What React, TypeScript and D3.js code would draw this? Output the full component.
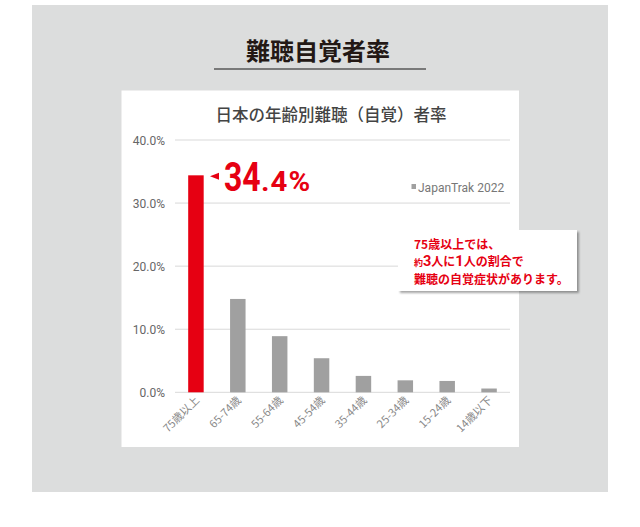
import React from "react";
import * as d3 from "d3";

const categories = ["75歳以上", "65-74歳", "55-64歳", "45-54歳", "35-44歳", "25-34歳", "15-24歳", "14歳以下"];
const values = [34.4, 14.8, 8.9, 5.4, 2.6, 1.9, 1.8, 0.6];
const yTicks = [0, 10, 20, 30, 40];
const seriesName = "JapanTrak 2022";
const mainTitle = "難聴自覚者率";
const chartTitle = "日本の年齢別難聴（自覚）者率";
const highlightBig = "34";
const highlightSmall = ".4%";

const RED = "#e60012";
const GRAY = "#a0a0a0";
const JP = "'Noto Sans CJK JP', 'Noto Sans', sans-serif";
const NUM = "Roboto, 'Noto Sans', sans-serif";

export default function App() {
  const x = d3.scaleBand<string>().domain(categories).range([175, 510]).paddingInner(0.63).paddingOuter(0.315);
  const y = d3.scaleLinear().domain([0, 40]).range([392.3, 140]);
  const fmt = (v: number) => d3.format(".1f")(v) + "%";

  return (
    <svg width={640} height={527} style={{ position: "absolute", left: 0, top: 0, background: "#fff" }}>
      <defs>
        <filter id="sh" x="-10%" y="-10%" width="130%" height="140%">
          <feDropShadow dx="2" dy="2" stdDeviation="1.2" floodColor="#000" floodOpacity="0.35" />
        </filter>
      </defs>
      <rect x={32} y={5} width={576} height={487} fill="#dcdddd" />
      <text x={318} y={60} textAnchor="middle" fontFamily={JP} fontWeight={700} fontSize={24} fill="#231815">
        {mainTitle}
      </text>
      <line x1={214} x2={426} y1={69} y2={69} stroke="#595757" strokeWidth={1.5} />
      <rect x={121.5} y={90.5} width={397.5} height={356.5} fill="#fff" />
      <text x={331} y={121} textAnchor="middle" fontFamily={JP} fontWeight={500} fontSize={16.5} fill="#444">
        {chartTitle}
      </text>
      {yTicks.map((t) => (
        <g key={t}>
          <line x1={175} x2={510} y1={y(t)} y2={y(t)} stroke="#d9d9d9" strokeWidth={1} />
          <text x={165} y={y(t) + 4.5} textAnchor="end" fontFamily={NUM} fontSize={12} fill="#666">
            {fmt(t)}
          </text>
        </g>
      ))}
      {categories.map((c, i) => (
        <rect
          key={c}
          x={x(c)}
          y={y(values[i])}
          width={x.bandwidth()}
          height={y(0) - y(values[i])}
          fill={i === 0 ? RED : GRAY}
        />
      ))}
      {categories.map((c) => {
        const cx = (x(c) as number) + x.bandwidth() / 2 + 4;
        const cy = 401;
        return (
          <text
            key={c}
            transform={`translate(${cx},${cy}) rotate(-45)`}
            textAnchor="end"
            fontFamily={JP}
            fontSize={11}
            fill="#888"
          >
            {c}
          </text>
        );
      })}
      {/* highlight label */}
      <path d={`M210,${y(values[0]) + 1} L219,${y(values[0]) - 2.5} L219,${y(values[0]) + 4.5} Z`} fill={RED} />
      <g transform="translate(224,191) scale(0.78,1)">
        <text x={0} y={0} fontFamily={NUM} fontWeight={700} fontSize={41} fill={RED}>
          {highlightBig}
        </text>
      </g>
      <g transform="translate(261,191) scale(1.05,1)">
        <text x={0} y={0} fontFamily={NUM} fontWeight={700} fontSize={28} fill={RED} letterSpacing={1}>
          {highlightSmall}
        </text>
      </g>
      {/* legend */}
      <rect x={411.5} y={184} width={4.5} height={5} fill={GRAY} />
      <text x={418} y={191.5} fontFamily={NUM} fontSize={12} fill="#777">
        {seriesName}
      </text>
      {/* callout */}
      <rect x={398} y={230} width={179} height={61} fill="#fff" filter="url(#sh)" />
      <text fontFamily={JP} fontWeight={700} fill={RED} fontSize={12}>
        <tspan x={414} y={249}>75歳以上では、</tspan>
      </text>
      <text x={414} y={266} fontFamily={JP} fontWeight={700} fill={RED} fontSize={12}>
        <tspan fontSize={9}>約</tspan>
        <tspan fontSize={14.5} fontFamily={NUM}>3</tspan>
        <tspan>人に</tspan>
        <tspan fontSize={14.5} fontFamily={NUM}>1</tspan>
        <tspan>人の割合で</tspan>
      </text>
      <text x={414} y={283.5} fontFamily={JP} fontWeight={700} fill={RED} fontSize={12}>
        難聴の自覚症状があります。
      </text>
    </svg>
  );
}
